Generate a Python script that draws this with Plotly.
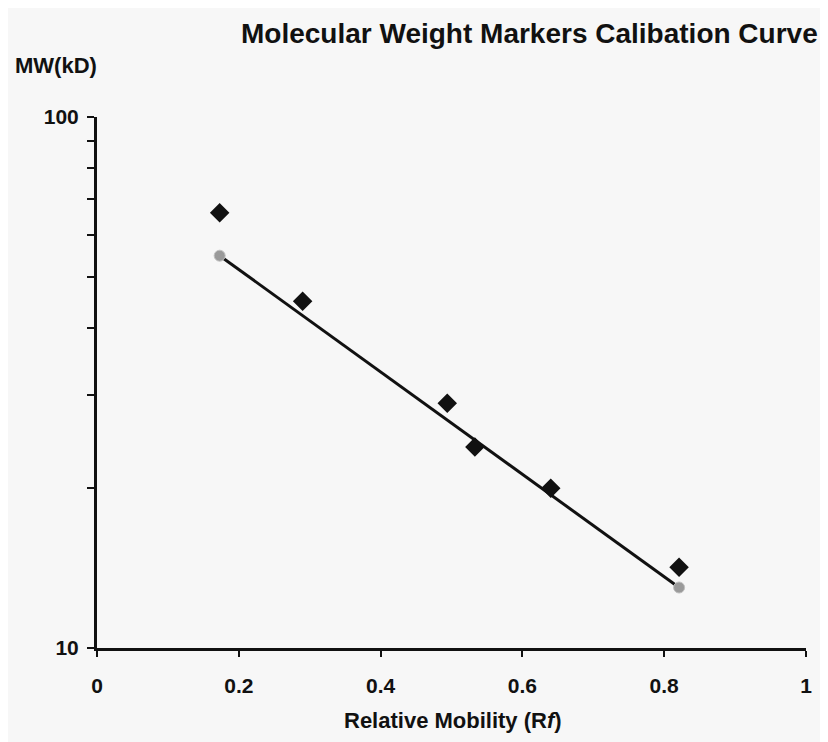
import plotly.graph_objects as go

# Data
rf = [0.173, 0.29, 0.494, 0.533, 0.64, 0.821]
mw_kd = [66.0, 45.0, 28.9, 23.9, 20.0, 14.2]

fit_rf = [0.173, 0.821]
fit_mw = [54.8, 13.0]

x_ticks = [0, 0.2, 0.4, 0.6, 0.8, 1]
x_tick_text = ["0", "0.2", "0.4", "0.6", "0.8", "1"]
y_ticks = [10, 20, 30, 40, 50, 60, 70, 80, 90, 100]
y_tick_text = ["10", "", "", "", "", "", "", "", "", "100"]

font_fam = "Liberation Sans, Arial, sans-serif"
ink = "#111111"
bg = "#f7f7f7"

# page offset of 8px (body margin) compensated in figure geometry
W, H = 820, 734
ML, MR, MT, MB = 89, 22, 109, 94
PW = W - ML - MR
PH = H - MT - MB


def px(xp):
    return (xp - 97) / PW


def py(yp):
    return (648 - yp) / PH


fig = go.Figure()
fig.add_trace(go.Scatter(
    x=fit_rf, y=fit_mw, mode="lines+markers",
    line=dict(color=ink, width=3),
    marker=dict(symbol="circle", size=11, color="#9a9a9a",
                line=dict(color="#c0c0c0", width=1)),
    showlegend=False, hoverinfo="skip"))
fig.add_trace(go.Scatter(
    x=rf, y=mw_kd, mode="markers",
    marker=dict(symbol="diamond", size=15, color=ink),
    showlegend=False))

fig.update_layout(
    width=W, height=H,
    paper_bgcolor=bg, plot_bgcolor=bg,
    margin=dict(l=ML, r=MR, t=MT, b=MB),
    font=dict(family=font_fam, color=ink),
    xaxis=dict(range=[0, 1], tickvals=x_ticks,
               ticktext=["<b>%s</b>" % t for t in x_tick_text],
               showgrid=False, zeroline=False, showline=True,
               linecolor=ink, linewidth=3,
               ticks="outside", ticklen=6, tickwidth=2, tickcolor=ink,
               ticklabelstandoff=11,
               tickfont=dict(size=21, family=font_fam, color=ink)),
    yaxis=dict(type="log", range=[1, 2], tickvals=y_ticks,
               ticktext=["<b>%s</b>" % t if t else "" for t in y_tick_text],
               showgrid=False, zeroline=False, showline=True,
               linecolor=ink, linewidth=3,
               ticks="outside", ticklen=7, tickwidth=2, tickcolor=ink,
               ticklabelstandoff=4,
               tickfont=dict(size=21, family=font_fam, color=ink)),
    annotations=[
        dict(text="<b>Molecular Weight Markers Calibation Curve</b>",
             xref="paper", yref="paper", x=px(529), y=py(34), showarrow=False,
             font=dict(size=28), xanchor="center", yanchor="middle"),
        dict(text="<b>MW(kD)</b>", xref="paper", yref="paper",
             x=px(13), y=py(65), showarrow=False, font=dict(size=22),
             xanchor="left", yanchor="middle"),
        dict(text="<b>Relative Mobility (R<i>f</i>)</b>", xref="paper", yref="paper",
             x=px(453), y=py(721), showarrow=False, font=dict(size=22),
             xanchor="center", yanchor="middle"),
    ],
)

fig.write_html("out.html")
